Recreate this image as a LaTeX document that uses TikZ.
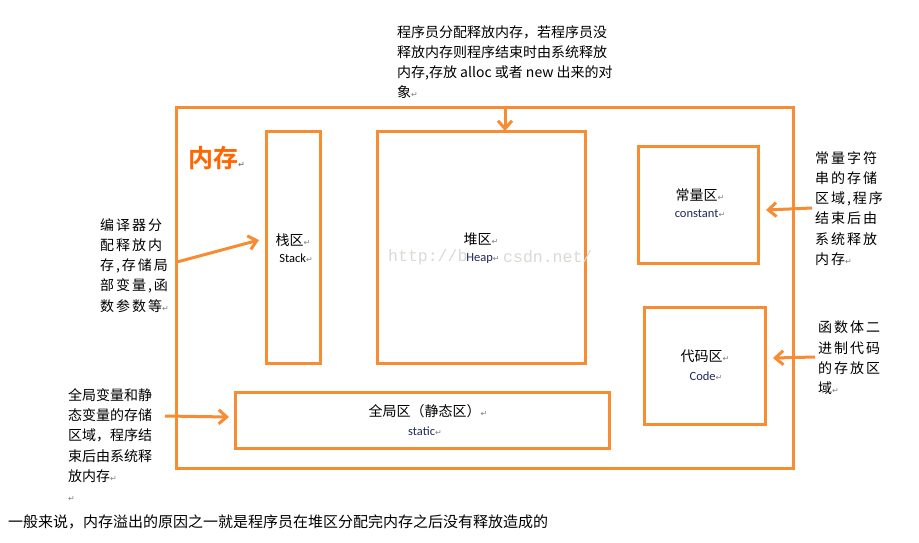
\documentclass[tikz,border=0pt]{standalone}
\usepackage{fontspec}
\usetikzlibrary{arrows.meta}
\setmainfont{Carlito}
\newfontfamily\cjk{Noto Sans CJK SC}
\newfontfamily\cjkw[LetterSpace=14]{Noto Sans CJK SC}
\newfontfamily\cjkb[BoldFont={Noto Sans CJK SC Bold}]{Noto Sans CJK SC}
\newfontfamily\sym{DejaVu Sans}
\newfontfamily\wmono{Liberation Mono}
\definecolor{org}{RGB}{247,140,50}
\definecolor{orgred}{RGB}{255,102,0}
\definecolor{wm}{RGB}{218,218,212}
\definecolor{dblue}{RGB}{30,40,90}
\newcommand\rt{{\sym\color{gray}\fontsize{8}{8}\selectfont ↵}}
\begin{document}
\begin{tikzpicture}[x=1pt,y=-1pt,
  area/.style={draw=org, line width=3pt, inner sep=0pt, outer sep=0pt},
  arr/.style={draw=org, line width=3pt, -{Straight Barb[length=8pt,width=14pt,line width=3pt]}},
  note/.style={inner sep=0pt, anchor=north west, align=left, font=\cjk\fontsize{14}{20.3}\selectfont},
  notew/.style={inner sep=0pt, anchor=north west, align=left, font=\cjkw\fontsize{14}{20.3}\selectfont},
  cn/.style={inner sep=0pt, font=\cjk\fontsize{14}{16}\selectfont},
  en/.style={inner sep=0pt, font=\fontsize{12.5}{14}\selectfont},
  wmark/.style={inner sep=0pt, anchor=west, text=wm, font=\wmono\fontsize{16.5}{16.5}\selectfont}]
\useasboundingbox (0,0) rectangle (919,542);
\fill[white] (0,0) rectangle (919,542);

% boxes
\node[area, minimum width=617pt, minimum height=361pt] (outer) at (484.5,287.5) {};
\node[area, minimum width=54pt, minimum height=232pt] (stack) at (293,247) {};
\node[area, minimum width=208pt, minimum height=232pt] (heap) at (481,247) {};
\node[area, minimum width=120pt, minimum height=117pt] (const) at (698,204.5) {};
\node[area, minimum width=121pt, minimum height=117pt] (code) at (704.5,365.5) {};
\node[area, minimum width=374pt, minimum height=56pt] (static) at (422,420) {};

% title
\node[inner sep=0pt, anchor=west, text=orgred, font=\cjkb\bfseries\fontsize{25}{25}\selectfont] (title) at (188,158) {内存\rt};

% watermark (partly hidden behind the Heap label)
\node[wmark] (wmark1) at (388,257) {http://b};
\node[wmark] (wmark2) at (503,257) {csdn.net/};

% box labels
\node[cn] (stackcn) at (293,240) {栈区\rt};
\node[en] (stacken) at (296,258) {Stack\rt};
\node[cn] (heapcn) at (481,239) {堆区\rt};
\node[en, text=dblue] (heapen) at (483,258) {Heap\rt};
\node[cn] (constcn) at (700,195) {常量区\rt};
\node[en, text=dblue] (consten) at (700,214) {constant\rt};
\node[cn] (codecn) at (705,356) {代码区\rt};
\node[en, text=dblue] (codeen) at (706,376) {Code\rt};
\node[cn] (staticcn) at (428,411) {全局区（静态区）\rt};
\node[en, text=dblue] (staticen) at (425,431) {static\rt};

% notes
\node[note] (ntop) at (397,25) {程序员分配释放内存，若程序员没\\释放内存则程序结束时由系统释放\\内存,存放 alloc 或者 new 出来的对\\象\rt};
\node[notew] (nleft1) at (100,218) {编译器分\\配释放内\\存,存储局\\部变量,函\\数参数等\rt};
\node[note] (nleft2) at (68,388) {全局变量和静\\态变量的存储\\区域，程序结\\束后由系统释\\放内存\rt\\\rt};
\node[notew] (nright1) at (815,151) {常量字符\\串的存储\\区域,程序\\结束后由\\系统释放\\内存\rt};
\node[notew] (nright2) at (818,321) {函数体二\\进制代码\\的存放区\\域\rt};
\node[inner sep=0pt, anchor=north west, font=\cjk\fontsize{15}{18}\selectfont] (nbottom) at (8,515) {一般来说，内存溢出的原因之一就是程序员在堆区分配完内存之后没有释放造成的};

% arrow anchor points
\coordinate (a1s) at (505,107);
\coordinate (a1e) at (505,131);
\coordinate (a2s) at (177,262);
\coordinate (a2e) at (259,240);
\coordinate (a3s) at (165,416);
\coordinate (a3e) at (229,417);
\coordinate (a4s) at (812,208);
\coordinate (a4e) at (766,210);
\coordinate (a5s) at (815,357);
\coordinate (a5e) at (773,358);

\draw[arr] (a1s) -- (a1e);
\draw[arr] (a2s) -- (a2e);
\draw[arr] (a3s) -- (a3e);
\draw[arr] (a4s) -- (a4e);
\draw[arr] (a5s) -- (a5e);
\end{tikzpicture}
\end{document}
